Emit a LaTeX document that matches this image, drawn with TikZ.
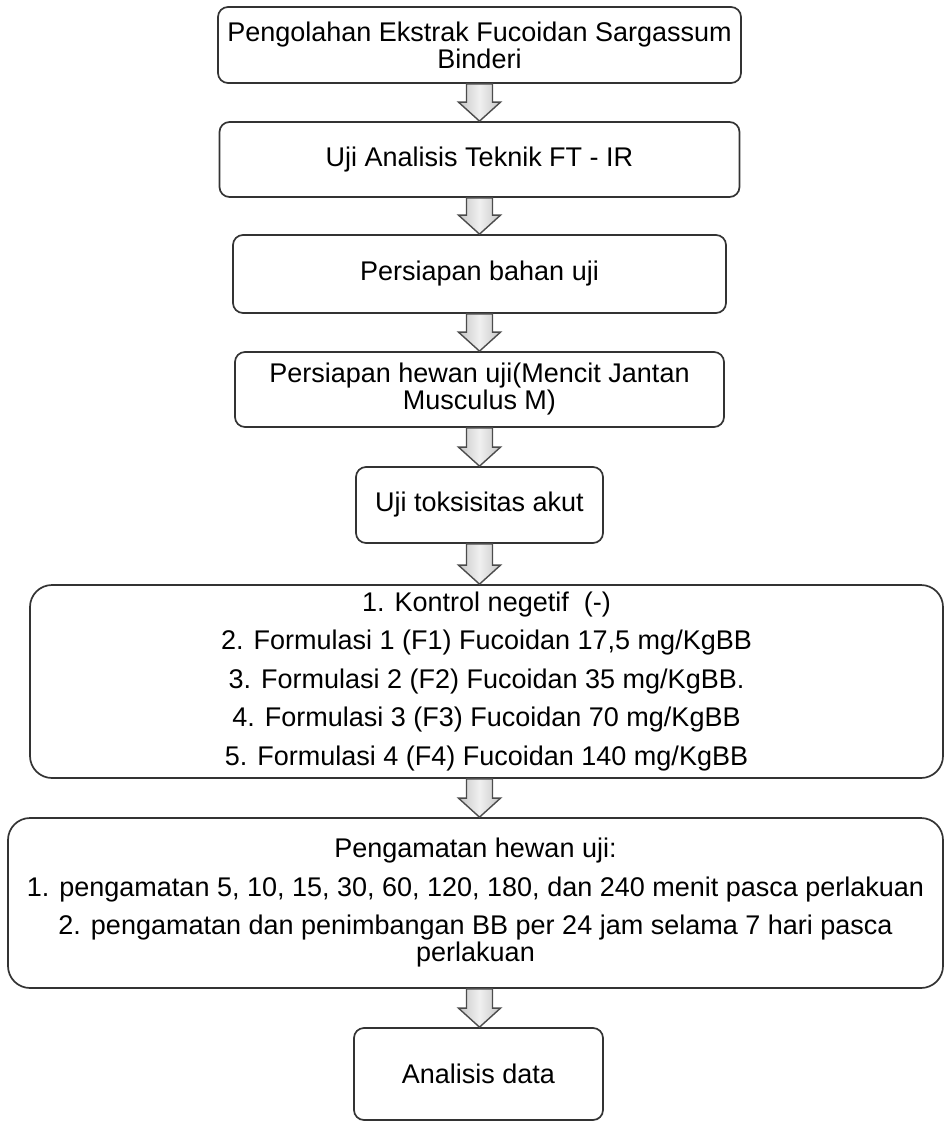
\documentclass[tikz,border=0pt]{standalone}
\usepackage{fontspec}
\setmainfont{Liberation Sans}
\usetikzlibrary{calc}
\begin{document}
\begin{tikzpicture}[x=1pt,y=-1pt,
  box/.style={draw=black!80, line width=1.7pt, rounded corners=10pt, align=center,
    inner sep=0pt, font=\fontsize{27}{27}\selectfont},
  bigbox/.style={box, rounded corners=22pt},
  arr/.style={draw=black!70, line width=1.4pt, line join=miter, left color=gray!45, right color=gray!45, middle color=gray!12}]
\useasboundingbox (0,0) rectangle (945,1127);
\node[box, minimum width=523pt, minimum height=76pt] (b1) at (479.5,45) {Pengolahan Ekstrak Fucoidan Sargassum\\Binderi};
\node[box, minimum width=520pt, minimum height=75pt] (b2) at (479.5,159.5) {Uji Analisis Teknik FT - IR};
\node[box, minimum width=493pt, minimum height=78pt] (b3) at (479.5,274) {Persiapan bahan uji};
\node[box, minimum width=489pt, minimum height=75pt] (b4) at (479.5,389.5) {Persiapan hewan uji(Mencit Jantan\\Musculus M)};
\node[box, minimum width=247pt, minimum height=76pt] (b5) at (479.5,505) {Uji toksisitas akut};
\node[bigbox, minimum width=913pt, minimum height=193pt] (b6) at (486.5,681.5) {1. Kontrol negetif\ \ (-)\\[11.5pt]
2. Formulasi 1 (F1) Fucoidan 17,5 mg/KgBB\\[11.5pt]
3. Formulasi 2 (F2) Fucoidan 35 mg/KgBB.\\[11.5pt]
4. Formulasi 3 (F3) Fucoidan 70 mg/KgBB\\[11.5pt]
5. Formulasi 4 (F4) Fucoidan 140 mg/KgBB};
\node[bigbox, minimum width=935pt, minimum height=170pt] (b7) at (475.5,903) {Pengamatan hewan uji:\\[11.5pt]
1. pengamatan 5, 10, 15, 30, 60, 120, 180, dan 240 menit pasca perlakuan\\[11.5pt]
2. pengamatan dan penimbangan BB per 24 jam selama 7 hari pasca\\
perlakuan};
\node[box, minimum width=249pt, minimum height=92pt] (b8) at (478.5,1074) {Analisis data};
\foreach \a/\b in {b1/b2,b2/b3,b3/b4,b4/b5,b5/b6,b6/b7,b7/b8}{
  \coordinate (s) at (\a.south -| b1.south);
  \coordinate (e) at (\b.north -| b1.south);
  \draw[arr] ([xshift=-13pt]s) -- ([xshift=-13pt,yshift=19pt]e) -- ([xshift=-21pt,yshift=19pt]e) -- (e)
    -- ([xshift=21pt,yshift=19pt]e) -- ([xshift=13pt,yshift=19pt]e) -- ([xshift=13pt]s) -- cycle;
}
\end{tikzpicture}
\end{document}
